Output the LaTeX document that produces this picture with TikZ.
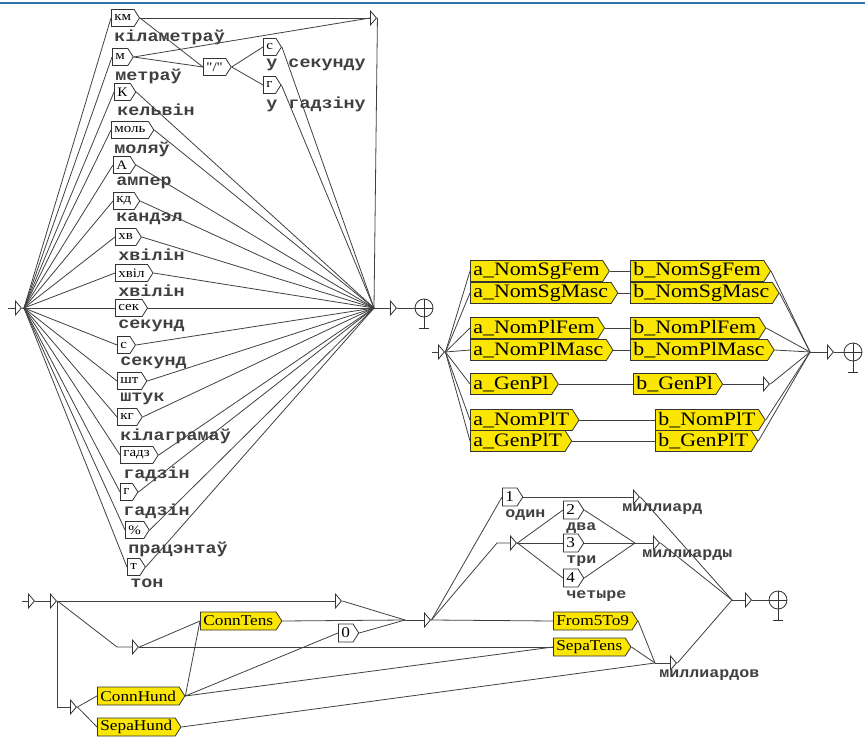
\documentclass[tikz,border=0pt]{standalone}
\usepackage{fontspec}
\usepackage{tikz}
\usetikzlibrary{shapes.symbols,shapes.geometric}

\newfontfamily\boxfont[FakeStretch=1.15]{Liberation Serif}
\newfontfamily\labfont[FakeStretch=1.15]{Liberation Mono}
\definecolor{boxyellow}{RGB}{250,230,0}
\definecolor{wireblue}{RGB}{45,115,175}

\begin{document}
\begin{tikzpicture}[x=1pt,y=-1pt,line width=0.8pt,
    every edge/.style={draw=black!75,line width=0.8pt},
    box/.style={draw=black!80,signal,signal to=east,signal pointer angle=115,
      anchor=west,inner xsep=3pt,inner ysep=0pt,minimum height=17pt,
      font=\boxfont\fontsize{13}{13}\selectfont},
    ybox/.style={box,fill=boxyellow,minimum height=21pt,
      font=\boxfont\fontsize{19}{19}\selectfont},
    sbox/.style={box,minimum height=18pt,font=\boxfont\fontsize{15}{15}\selectfont},
    hbox/.style={sbox,fill=boxyellow},
    tip/.style={draw=black!80,isosceles triangle,isosceles triangle stretches,
      anchor=west,inner sep=0pt,minimum width=14pt,minimum height=6pt},
    fin/.style={draw=black!80,circle,inner sep=0pt,minimum size=18pt,
      path picture={\draw[black!80] (path picture bounding box.north) -- (path picture bounding box.south)
        (path picture bounding box.west) -- (path picture bounding box.east);}},
    lab/.style={font=\labfont\bfseries\fontsize{16}{16}\selectfont,text=black!75,
      inner sep=0pt,anchor=north west,xshift=3pt,yshift=-3pt},
    slab/.style={lab,font=\labfont\bfseries\fontsize{14.5}{14.5}\selectfont}]
    \useasboundingbox (0,0) rectangle (865,738);
    \draw[wireblue,line width=2pt] (0,3) -- (865,3);

    % units
    \coordinate (a0) at (8,308);
    \coordinate (l) at (24,308);
    \coordinate (r) at (374,308);
    \node[tip] (i0) at (15,308) {};
    \node[box,label={[lab]south west:кіламетраў}] (km) at (111,18) {км};
    \node[box,label={[lab]south west:метраў}] (m) at (112,57) {м};
    \node[box,label={[lab]south west:кельвін}] (kel) at (114,92) {К};
    \node[box,label={[lab]south west:моляў}] (mol) at (111,130) {моль};
    \node[box,label={[lab]south west:ампер}] (amp) at (113,165) {А};
    \node[box,label={[lab]south west:кандэл}] (kd) at (113,201) {кд};
    \node[box,label={[lab]south west:хвілін}] (hv) at (115,237) {хв};
    \node[box,label={[lab]south west:хвілін}] (hvl) at (115,273) {хвіл};
    \node[box,label={[lab]south west:секунд}] (sek) at (115,308) {сек};
    \node[box,label={[lab]south west:секунд}] (sec) at (117,345) {с};
    \node[box,label={[lab]south west:штук}] (sht) at (117,381) {шт};
    \node[box,label={[lab]south west:кілаграмаў}] (kg) at (117,417) {кг};
    \node[box,label={[lab]south west:гадзін}] (gdz) at (120,455) {гадз};
    \node[box,label={[lab]south west:гадзін}] (gd) at (120,492) {г};
    \node[box,label={[lab]south west:працэнтаў}] (pct) at (125,530) {\%};
    \node[box,label={[lab]south west:тон}] (ton) at (127,567) {т};
    \node[box] (sl) at (203,67) {"/"};
    \node[box,label={[lab]south west:у секунду}] (sc) at (263,47) {с};
    \node[box,label={[lab]south west:у гадзіну}] (hr) at (263,85) {г};
    \node[tip] (t0) at (370,18) {};
    \node[tip] (tr1) at (390,308) {};
    \node[fin] (f1) at (424,308) {};
    \draw[black!80] (f1.south) -- ++(0,11) ++(-5,0) -- ++(10,0);

    \path (a0) edge (i0.west)
      (i0.east) edge (l)
      (l) edge (km.west) edge (m.west) edge (kel.west) edge (mol.west)
        edge (amp.west) edge (kd.west) edge (hv.west) edge (hvl.west)
        edge (sek.west) edge (sec.west) edge (sht.west) edge (kg.west)
        edge (gdz.west) edge (gd.west) edge (pct.west) edge (ton.west)
      (km.east) edge (t0.west) edge (sl.west)
      (m.east) edge (t0.west) edge (sl.west)
      (sl.east) edge (sc.west) edge (hr.west)
      (t0.east) edge (r) (sc.east) edge (r) (hr.east) edge (r)
      (kel.east) edge (r) (mol.east) edge (r) (amp.east) edge (r)
      (kd.east) edge (r) (hv.east) edge (r) (hvl.east) edge (r)
      (sek.east) edge (r) (sec.east) edge (r) (sht.east) edge (r)
      (kg.east) edge (r) (gdz.east) edge (r) (gd.east) edge (r)
      (pct.east) edge (r) (ton.east) edge (r)
      (r) edge (tr1.west)
      (tr1.east) edge (f1);

    % cases
    \coordinate (a1) at (432,352);
    \coordinate (q) at (810,352);
    \node[tip] (i2) at (438,352) {};
    \node[ybox] (asf) at (470,271) {a\_NomSgFem};
    \node[ybox] (asm) at (470,293) {a\_NomSgMasc};
    \node[ybox] (apf) at (470,328) {a\_NomPlFem};
    \node[ybox] (apm) at (470,350) {a\_NomPlMasc};
    \node[ybox] (agp) at (470,384) {a\_GenPl};
    \node[ybox] (apt) at (470,420) {a\_NomPlT};
    \node[ybox] (agt) at (470,441) {a\_GenPlT};
    \node[ybox] (bsf) at (630,271) {b\_NomSgFem};
    \node[ybox] (bsm) at (630,293) {b\_NomSgMasc};
    \node[ybox] (bpf) at (630,328) {b\_NomPlFem};
    \node[ybox] (bpm) at (630,350) {b\_NomPlMasc};
    \node[ybox] (bgp) at (633,384) {b\_GenPl};
    \node[ybox] (bpt) at (655,420) {b\_NomPlT};
    \node[ybox] (bgt) at (655,441) {b\_GenPlT};
    \node[tip] (t5) at (763,384) {};
    \node[tip] (t6) at (827,352) {};
    \node[fin] (f2) at (853,352) {};
    \draw[black!80] (f2.south) -- ++(0,11) ++(-5,0) -- ++(10,0);

    \path (a1) edge (i2.west)
      (i2.east) edge (asf.west) edge (asm.west) edge (apf.west) edge (apm.west)
        edge (agp.west) edge (apt.west) edge (agt.west)
      (asf.east) edge (bsf.west) (asm.east) edge (bsm.west)
      (apf.east) edge (bpf.west) (apm.east) edge (bpm.west)
      (agp.east) edge (bgp.west) (apt.east) edge (bpt.west)
      (agt.east) edge (bgt.west)
      (bgp.east) edge (t5.west)
      (bsf.east) edge (q) (bsm.east) edge (q) (bpf.east) edge (q)
      (bpm.east) edge (q) (t5.east) edge (q) (bpt.east) edge (q)
      (bgt.east) edge (q)
      (q) edge (t6.west)
      (t6.east) edge (f2);

    % numbers
    \coordinate (b0) at (22,601);
    \coordinate (k1) at (117,647);
    \coordinate (k2) at (497,543);
    \coordinate (m1) at (405,620);
    \coordinate (m2) at (635,543);
    \coordinate (m3) at (655,663);
    \coordinate (m4) at (732,600);
    \node[tip] (i3) at (28,601) {};
    \node[tip] (i4) at (50,601) {};
    \node[tip] (t7) at (335,601) {};
    \node[tip] (t8) at (132,647) {};
    \node[tip] (t9) at (70,707) {};
    \node[hbox] (ct) at (200,621) {ConnTens};
    \node[sbox] (zero) at (338,633) {0};
    \node[hbox] (ch) at (97,696) {ConnHund};
    \node[hbox] (sh) at (97,727) {SepaHund};
    \node[tip] (t10) at (424,620) {};
    \node[hbox] (f59) at (553,621) {From5To9};
    \node[hbox] (st) at (553,647) {SepaTens};
    \node[sbox,label={[slab]south west:один}] (one) at (502,497) {1};
    \node[tip] (t11) at (510,543) {};
    \node[sbox,label={[slab]south west:два}] (two) at (563,510) {2};
    \node[sbox,label={[slab]south west:три}] (three) at (563,543) {3};
    \node[sbox,label={[slab]south west:четыре}] (four) at (563,578) {4};
    \node[tip,label={[slab,xshift=-14pt]south west:миллиард}] (t12) at (633,497) {};
    \node[tip,label={[slab,xshift=-14pt]south west:миллиарды}] (t13) at (653,543) {};
    \node[tip,label={[slab,xshift=-14pt]south west:миллиардов}] (t14) at (670,663) {};
    \node[tip] (t15) at (745,600) {};
    \node[fin] (f3) at (778,600) {};
    \draw[black!80] (f3.south) -- ++(0,11) ++(-5,0) -- ++(10,0);

    \path (b0) edge (i3.west)
      (i3.east) edge (i4.west)
      (i4.east) edge (t7.west)
      (t9.east) edge (ch.west) edge (sh.west)
      (t8.east) edge (ct.west) edge (st.west)
      (ch.east) edge (ct.west) edge (zero.west) edge (st.west)
      (sh.east) edge (m3)
      (t7.east) edge (m1) (ct.east) edge (m1) (zero.east) edge (m1)
      (m1) edge (t10.west)
      (t10.east) edge (one.west) edge (f59.west)
      (one.east) edge (t12.west)
      (t11.east) edge (two.west) edge (three.west) edge (four.west)
      (two.east) edge (m2) (three.east) edge (m2) (four.east) edge (m2)
      (m2) edge (t13.west)
      (f59.east) edge (m3) (st.east) edge (m3)
      (m3) edge (t14.west)
      (t12.east) edge (m4) (t13.east) edge (m4) (t14.east) edge (m4)
      (m4) edge (t15.west)
      (t15.east) edge (f3);
    \draw[black!75] (i4.east) -- (k1) -- (t8.west);
    \draw[black!75] (i4.east) |- (t9.west);
    \draw[black!75] (t10.east) -- (k2) -- (t11.west);
\end{tikzpicture}
\end{document}
